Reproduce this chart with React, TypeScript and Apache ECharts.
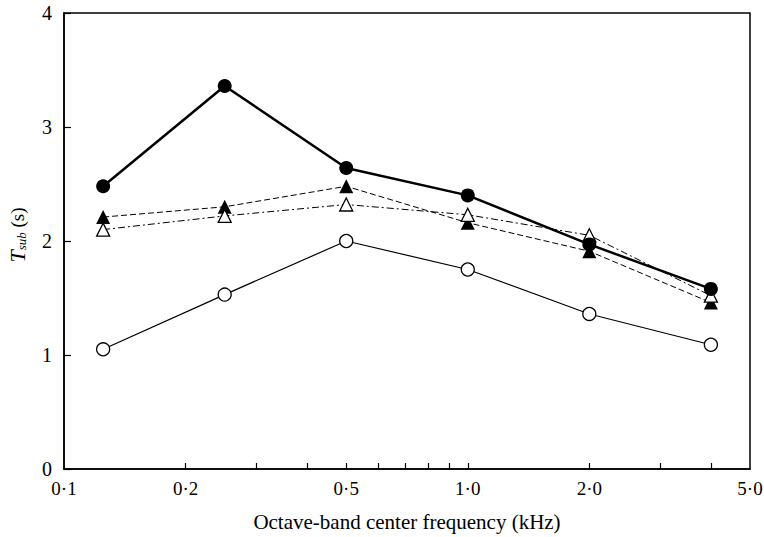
import React, { useEffect, useRef } from "react";
import * as echarts from "echarts";

const frequencies = [0.125, 0.25, 0.5, 1, 2, 4];
const filledCircles = [2.48, 3.36, 2.64, 2.4, 1.97, 1.58];
const openCircles = [1.05, 1.53, 2.0, 1.75, 1.36, 1.09];
const filledTriangles = [2.21, 2.3, 2.48, 2.16, 1.91, 1.46];
const openTriangles = [2.1, 2.22, 2.32, 2.23, 2.05, 1.52];
const xLabelValues = [0.1, 0.2, 0.5, 1, 2, 5];
const xTickValues = [0.2, 0.3, 0.4, 0.5, 0.6, 0.7, 0.8, 0.9, 1, 2, 3, 4];

const FONT = "Liberation Serif";

function toData(vals: number[]) {
  return frequencies.map((f, i) => [Math.log10(f), vals[i]]);
}

export default function App() {
  const ref = useRef<HTMLDivElement>(null);
  useEffect(() => {
    if (!ref.current) return;
    const chart = echarts.init(ref.current, undefined, { renderer: "svg" });
    const lineBase = { type: "line", symbolKeepAspect: true, z: 3 };
    chart.setOption({
      animation: false,
      backgroundColor: "#fff",
      textStyle: { fontFamily: FONT, color: "#000" },
      grid: {
        left: 64,
        right: 14,
        top: 13,
        bottom: 68,
        containLabel: false,
        outerBoundsMode: "none",
        show: true,
        borderColor: "#000",
        borderWidth: 1.5,
        backgroundColor: "transparent",
      },
      xAxis: {
        type: "value",
        min: Math.log10(0.1),
        max: Math.log10(5),
        name: "{a|Octave-band center frequency (kHz)}",
        nameLocation: "middle",
        nameGap: 42,
        nameTextStyle: {
          fontFamily: FONT,
          fontSize: 21,
          color: "#000",
          rich: { a: { fontFamily: FONT, fontSize: 21, color: "#000" } },
        },
        axisLine: { show: true, onZero: false, lineStyle: { color: "#000", width: 1.5 } },
        splitLine: { show: false },
        axisTick: {
          show: true,
          inside: true,
          length: 6,
          customValues: xTickValues.map((v) => Math.log10(v)),
          lineStyle: { color: "#000", width: 1.2 },
        },
        axisLabel: {
          customValues: xLabelValues.map((v) => Math.log10(v)),
          fontFamily: FONT,
          fontSize: 19,
          color: "#000",
          margin: 10,
          formatter: (v: number) =>
            "{a|" + (Math.round(Math.pow(10, v) * 10) / 10).toFixed(1).replace(".", "·") + "}",
          rich: { a: { fontFamily: FONT, fontSize: 19, color: "#000" } },
        },
      },
      yAxis: {
        type: "value",
        min: 0,
        max: 4,
        interval: 1,
        name: "{i|T}{s|sub} {n|(s)}",
        nameLocation: "middle",
        nameRotate: 90,
        nameGap: 36,
        nameTextStyle: {
          fontFamily: FONT,
          fontSize: 19,
          color: "#000",
          padding: [0, 0, 0, 12],
          rich: {
            i: { fontFamily: FONT, fontSize: 22, fontStyle: "italic", color: "#000" },
            s: {
              fontFamily: FONT,
              fontSize: 13,
              fontStyle: "italic",
              color: "#000",
              padding: [9, 0, 0, 0],
            },
            n: { fontFamily: FONT, fontSize: 19, color: "#000" },
          },
        },
        axisLine: { show: true, onZero: false, lineStyle: { color: "#000", width: 1.5 } },
        splitLine: { show: false },
        axisTick: {
          show: true,
          inside: true,
          length: 7,
          lineStyle: { color: "#000", width: 1.2 },
        },
        axisLabel: {
          fontFamily: FONT,
          fontSize: 20,
          color: "#000",
          margin: 12,
        },
      },
      series: [
        {
          ...lineBase,
          name: "open circles",
          data: toData(openCircles),
          symbol: "circle",
          symbolSize: 13,
          lineStyle: { color: "#000", width: 1.2 },
          itemStyle: { color: "#fff", borderColor: "#000", borderWidth: 1.3 },
        },
        {
          ...lineBase,
          name: "filled triangles",
          data: toData(filledTriangles),
          symbol: "triangle",
          symbolSize: 14,
          lineStyle: { color: "#000", width: 1, type: [6, 3] },
          itemStyle: { color: "#000", borderColor: "#000", borderWidth: 0 },
        },
        {
          ...lineBase,
          name: "open triangles",
          data: toData(openTriangles),
          symbol: "triangle",
          symbolSize: 13,
          lineStyle: { color: "#000", width: 1, type: [7, 3, 2, 3] },
          itemStyle: { color: "#fff", borderColor: "#000", borderWidth: 1.3 },
        },
        {
          ...lineBase,
          name: "filled circles",
          data: toData(filledCircles),
          symbol: "circle",
          symbolSize: 14,
          lineStyle: { color: "#000", width: 2.5 },
          itemStyle: { color: "#000", borderColor: "#000", borderWidth: 0 },
        },
      ],
    });
    return () => chart.dispose();
  }, []);
  return <div ref={ref} style={{ width: 764, height: 537, position: "absolute", left: 0, top: 0 }} />;
}
